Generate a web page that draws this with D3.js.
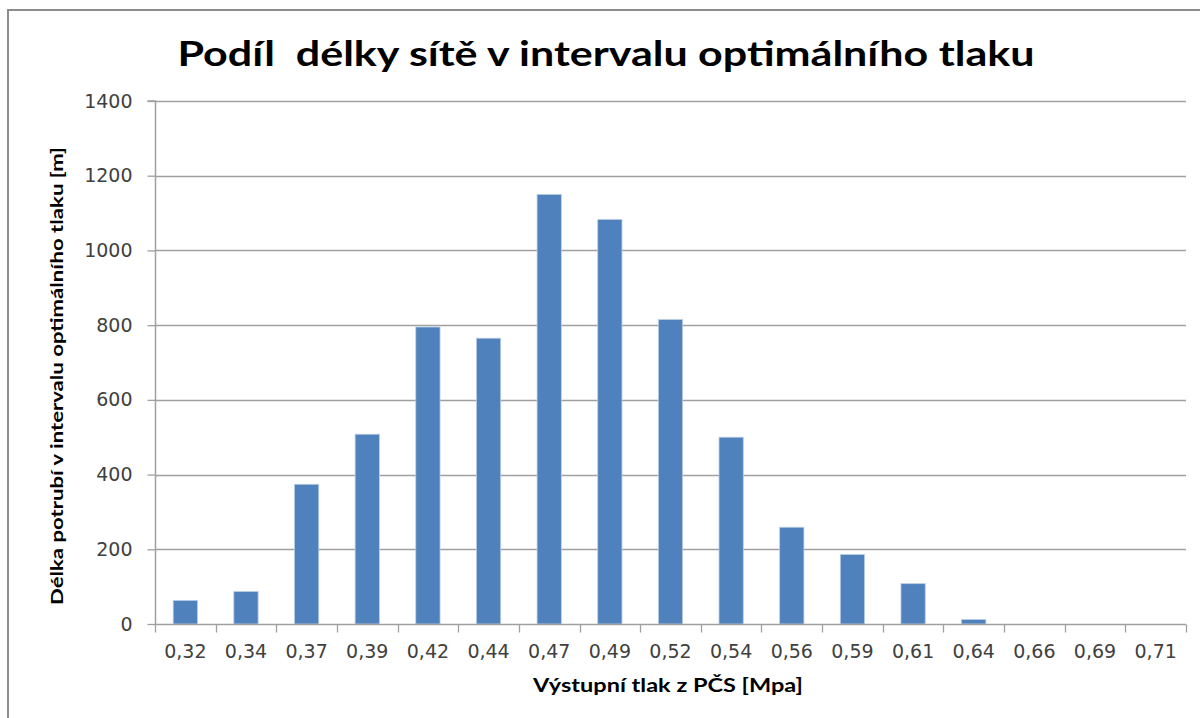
<!DOCTYPE html>
<html>
<head>
<meta charset="utf-8">
<script src="https://cdn.jsdelivr.net/npm/d3@7"></script>
<style>
  html, body { margin: 0; padding: 0; background: #fff; }
  svg { display: block; }
</style>
</head>
<body>
<svg id="chart" width="1200" height="718"></svg>
<script>
// ---- data ----
const categories = ["0,32","0,34","0,37","0,39","0,42","0,44","0,47","0,49","0,52","0,54","0,56","0,59","0,61","0,64","0,66","0,69","0,71"];
const values = [63, 87, 374, 508, 795, 765, 1150, 1083, 815, 500, 259, 186, 108, 12, 0, 0, 0];
const yTicks = [0, 200, 400, 600, 800, 1000, 1200, 1400];
const titleText = "Podíl  délky sítě v intervalu optimálního tlaku";
const yTitleText = "Délka potrubí v intervalu optimálního tlaku [m]";
const xTitleText = "Výstupní tlak z PČS [Mpa]";

const svg = d3.select("#chart");
const W = 1200, H = 718;
const plot = { left: 155, right: 1186, top: 101, bottom: 624 };
const gridColor = "#a0a0a0";
const axisColor = "#a0a0a0";
const barColor = "#4f81bd";

// outer chart border (only left/top visible in crop)
svg.append("rect")
  .attr("x", 8).attr("y", 10)
  .attr("width", W + 20).attr("height", H + 20)
  .attr("fill", "#fff").attr("stroke", "#8c8c8c").attr("stroke-width", 2);

const x = d3.scaleBand().domain(categories).range([plot.left, plot.right]).paddingInner(0.6).paddingOuter(0.3);
const xb = d3.scaleBand().domain(categories).range([plot.left, plot.right]);
const y = d3.scaleLinear().domain([0, 1400]).range([plot.bottom, plot.top]);

// gridlines
svg.append("g").selectAll("line").data(yTicks.filter(d => d > 0)).join("line")
  .attr("x1", plot.left).attr("x2", plot.right)
  .attr("y1", d => Math.round(y(d)) + 0.5).attr("y2", d => Math.round(y(d)) + 0.5)
  .attr("stroke", gridColor).attr("stroke-width", 1.3);

// bars
svg.append("g").selectAll("rect").data(values).join("rect")
  .attr("x", (d, i) => xb(categories[i]) + xb.bandwidth() * 0.3)
  .attr("width", xb.bandwidth() * 0.4)
  .attr("y", d => y(d))
  .attr("height", d => y(0) - y(d))
  .attr("fill", barColor)
  .attr("stroke", d => d > 0 ? "#b9cde5" : "none")
  .attr("stroke-width", 0.8);

// y axis
const yAxis = d3.axisLeft(y).tickValues(yTicks).tickSize(8).tickPadding(15).tickFormat(d3.format("d"));
const gy = svg.append("g").attr("transform", `translate(${plot.left + 0.5},0)`).call(yAxis);
gy.select(".domain").attr("stroke", axisColor).attr("stroke-width", 1.5).attr("d", `M-8,${plot.top}H0V${plot.bottom}`);
gy.selectAll(".tick line").attr("stroke", axisColor).attr("stroke-width", 1.3);
gy.selectAll(".tick text").attr("fill", "#404040").style("font-family", "DejaVu Sans").style("font-size", "19px");

// x axis
const xAxis = d3.axisBottom(xb).tickSize(0).tickPadding(20);
const gx = svg.append("g").attr("transform", `translate(0,${plot.bottom + 0.5})`).call(xAxis);
gx.select(".domain").attr("stroke", axisColor).attr("stroke-width", 1.5).attr("d", `M${plot.left},0H${plot.right}`);
gx.selectAll(".tick text").attr("fill", "#404040").style("font-family", "DejaVu Sans").style("font-size", "19px").attr("dy", "0.71em");
// category boundary ticks
const bounds = categories.map(c => xb(c)).concat([plot.right]);
gx.append("g").selectAll("line").data(bounds).join("line")
  .attr("x1", d => Math.round(d) + 0.5).attr("x2", d => Math.round(d) + 0.5)
  .attr("y1", 0).attr("y2", 8)
  .attr("stroke", axisColor).attr("stroke-width", 1.3);

// title
svg.append("text")
  .attr("x", 606).attr("y", 66)
  .attr("text-anchor", "middle")
  .style("font-family", "Lato, 'Open Sans', sans-serif").style("font-weight", "bold").style("font-size", "35px")
  .style("white-space", "pre")
  .attr("fill", "#000")
  .attr("textLength", 857).attr("lengthAdjust", "spacingAndGlyphs")
  .text(titleText);

// y axis title
svg.append("text")
  .attr("transform", `translate(63,376) rotate(-90)`)
  .attr("text-anchor", "middle")
  .style("font-family", "Lato, 'Open Sans', sans-serif").style("font-weight", "bold").style("font-size", "17px")
  .attr("fill", "#000")
  .attr("textLength", 458).attr("lengthAdjust", "spacingAndGlyphs")
  .text(yTitleText);

// x axis title
svg.append("text")
  .attr("x", 668).attr("y", 692)
  .attr("text-anchor", "middle")
  .style("font-family", "Lato, 'Open Sans', sans-serif").style("font-weight", "bold").style("font-size", "18px")
  .attr("fill", "#000")
  .attr("textLength", 270).attr("lengthAdjust", "spacingAndGlyphs")
  .text(xTitleText);
</script>
</body>
</html>
